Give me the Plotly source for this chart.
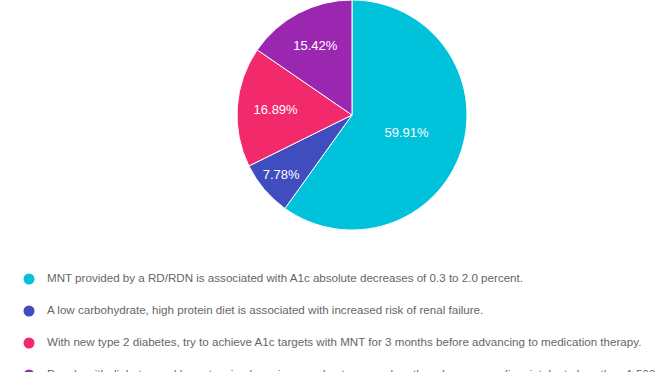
import plotly.graph_objects as go

labels = [
    "MNT provided by a RD/RDN is associated with A1c absolute decreases of 0.3 to 2.0 percent.",
    "A low carbohydrate, high protein diet is associated with increased risk of renal failure.",
    "With new type 2 diabetes, try to achieve A1c targets with MNT for 3 months before advancing to medication therapy.",
    "People with diabetes and hypertension have improved outcomes when they decrease sodium intake to less than 1,500 mg/day.",
]
values = [59.91, 7.78, 16.89, 15.42]
colors = ["#00C2DB", "#3F4DBF", "#F2296B", "#9B27B0"]

W, H = 672, 372
fig = go.Figure()

fig.add_trace(go.Pie(
    labels=labels, values=values, sort=False, direction="clockwise", rotation=0,
    marker=dict(colors=colors, line=dict(color="white", width=1)),
    textinfo="percent", texttemplate="%{percent:.2%}", textposition="inside",
    insidetextfont=dict(color="white", size=13, family="Liberation Sans, Arial"),
    insidetextorientation="horizontal",
    domain=dict(x=[0.0774, 0.9702], y=[0.3817, 1]),
    showlegend=False, hoverinfo="label+percent",
))

# custom legend rows: markers
rows = list(range(len(labels)))
fig.add_trace(go.Scatter(
    x=[1] * len(labels), y=rows, mode="markers",
    marker=dict(color=colors, size=11),
    xaxis="x", yaxis="y", showlegend=False, hoverinfo="skip", cliponaxis=True,
))
# custom legend rows: texts
fig.add_trace(go.Scatter(
    x=[19] * len(labels), y=rows, mode="text",
    text=labels, textposition="middle right",
    textfont=dict(color="#666666", size=11.6, family="Liberation Sans, Arial"),
    xaxis="x", yaxis="y", showlegend=False, hoverinfo="skip", cliponaxis=True,
))

fig.update_layout(
    width=W, height=H,
    margin=dict(l=0, r=0, t=0, b=0),
    paper_bgcolor="white", plot_bgcolor="white",
    xaxis=dict(domain=[0, 1], range=[-28, 644], visible=False, fixedrange=True),
    yaxis=dict(domain=[0, 0.3817], range=[2.906, -1.531], visible=False, fixedrange=True),
    font=dict(family="Liberation Sans, Arial"),
)

fig.write_html(
    "out.html",
    config={"displayModeBar": False},
    post_script="document.body.style.margin='0';document.body.style.overflow='hidden';",
)
